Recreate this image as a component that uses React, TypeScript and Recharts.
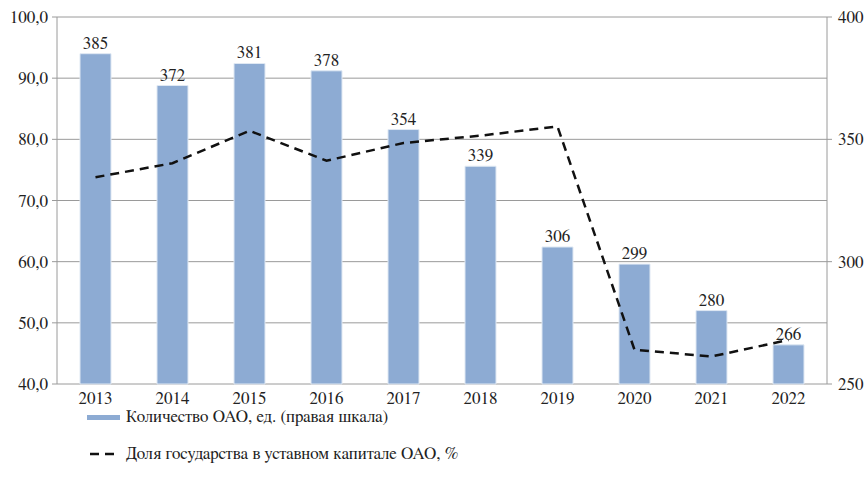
import React from 'react';
import { ComposedChart, Bar, Line, XAxis, YAxis, CartesianGrid, LabelList, Legend } from 'recharts';

const years = ['2013', '2014', '2015', '2016', '2017', '2018', '2019', '2020', '2021', '2022'];
const companies = [385, 372, 381, 378, 354, 339, 306, 299, 280, 266];
const stateShare = [73.8, 76.1, 81.4, 76.5, 79.4, 80.6, 82.1, 45.6, 44.5, 47.2];
const leftTicks = [40, 50, 60, 70, 80, 90, 100];
const rightTicks = [250, 300, 350, 400];
const boundaryTicks = [0, 1, 2, 3, 4, 5, 6, 7, 8, 9, 10];
const barName = 'Количество ОАО, ед. (правая шкала)';
const lineName = 'Доля государства в уставном капитале ОАО, %';

const data = years.map((y, i) => ({ year: y, idx: i + 0.5, count: companies[i], share: stateShare[i] }));

const FONT = 'FreeSerif';
const FS = 17;
const BAR_COLOR = '#8DABD3';
const AXIS = '#9a9a9a';

const LegendContent = () => (
  <div style={{ fontFamily: FONT, fontSize: FS, color: '#222', position: 'relative', height: 74 }}>
    <div style={{ position: 'absolute', left: 87, top: -7, display: 'flex', alignItems: 'center', lineHeight: '20px', whiteSpace: 'nowrap' }}>
      <div style={{ width: 33, height: 5, background: BAR_COLOR, marginRight: 6 }} />
      <span style={{ fontFamily: FONT }}>{barName}</span>
    </div>
    <div style={{ position: 'absolute', left: 87, top: 30, display: 'flex', alignItems: 'center', lineHeight: '20px', whiteSpace: 'nowrap' }}>
      <svg width={33} height={6} style={{ marginRight: 6 }}>
        <line x1={3} y1={3} x2={33} y2={3} stroke="#111" strokeWidth={2.5} strokeDasharray="9 6" />
      </svg>
      <span style={{ fontFamily: FONT }}>{lineName}</span>
    </div>
  </div>
);

export default function App() {
  return (
    <div style={{ position: 'absolute', left: 0, top: 0, background: '#fff', fontFamily: FONT }}>
      <ComposedChart
        width={864}
        height={488}
        data={data}
        margin={{ top: 17, right: 0, bottom: 0, left: 0 }}
        style={{ fontFamily: FONT }}
      >
        <CartesianGrid yAxisId="left" xAxisId="cat" horizontal vertical={false} stroke={AXIS} strokeWidth={1} />
        <XAxis
          xAxisId="bnd"
          type="number"
          dataKey="idx"
          domain={[0, 10]}
          ticks={boundaryTicks}
          tick={false}
          tickSize={5}
          height={0}
          axisLine={{ stroke: AXIS }}
          tickLine={{ stroke: AXIS }}
        />
        <XAxis
          xAxisId="cat"
          dataKey="year"
          tickLine={false}
          axisLine={false}
          height={30}
          tick={{ fontSize: FS, fill: '#222', fontFamily: FONT }}
          tickMargin={2}
        />
        <YAxis
          yAxisId="left"
          orientation="left"
          domain={[40, 100]}
          ticks={leftTicks}
          width={57}
          tickFormatter={(v: number) => v.toFixed(1).replace('.', ',')}
          tick={{ fontSize: FS, fill: '#222', fontFamily: FONT }}
          axisLine={{ stroke: AXIS }}
          tickLine={{ stroke: AXIS }}
          tickSize={5}
          tickMargin={4}
          interval={0}
        />
        <YAxis
          yAxisId="right"
          orientation="right"
          domain={[250, 400]}
          ticks={rightTicks}
          width={37}
          tick={{ fontSize: FS, fill: '#222', fontFamily: FONT, textAnchor: 'start' }}
          axisLine={{ stroke: AXIS }}
          tickLine={{ stroke: AXIS }}
          tickSize={5}
          tickMargin={6}
          interval={0}
        />
        <Legend verticalAlign="bottom" align="left" height={74} content={<LegendContent />} />
        <Bar
          xAxisId="cat"
          yAxisId="right"
          dataKey="count"
          name={barName}
          fill={BAR_COLOR}
          stroke="#dfe8f3"
          strokeWidth={1}
          barSize={31}
          isAnimationActive={false}
        >
          <LabelList dataKey="count" position="top" offset={5} style={{ fontSize: FS, fill: '#222', fontFamily: FONT }} />
        </Bar>
        <Line
          xAxisId="cat"
          yAxisId="left"
          dataKey="share"
          name={lineName}
          type="linear"
          stroke="#111"
          strokeWidth={2.5}
          strokeDasharray="9 6"
          dot={false}
          activeDot={false}
          isAnimationActive={false}
        />
      </ComposedChart>
    </div>
  );
}
